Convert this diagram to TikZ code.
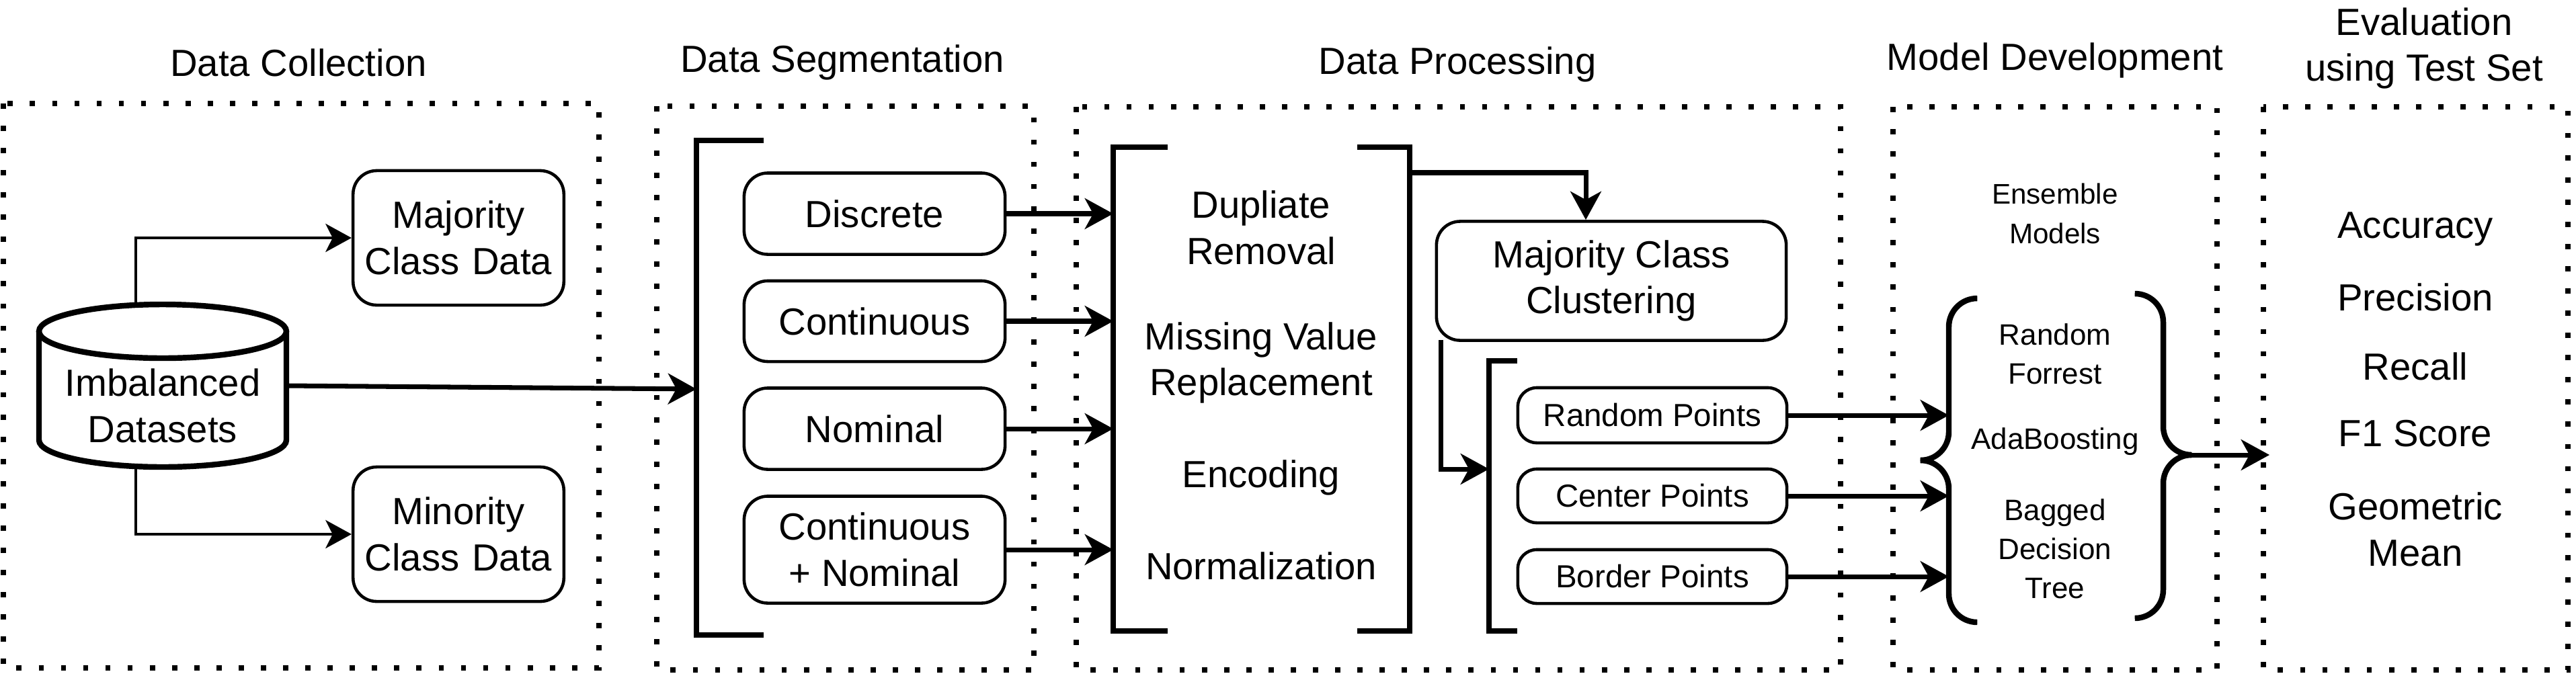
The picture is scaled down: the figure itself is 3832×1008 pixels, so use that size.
\documentclass[tikz,border=0pt]{standalone}
\usepackage{fontspec}
\setmainfont{Liberation Sans}
\usetikzlibrary{arrows.meta,positioning}
\tikzset{
  grp/.style={line width=2.2pt, dash pattern=on 2.2pt off 7.2pt},
  box/.style={draw, rounded corners=10pt, line width=1.3pt, align=center},
  lbl/.style={align=center, font=\fontsize{16}{19.5}\selectfont},
  arr/.style={-{Stealth[length=12pt,width=13pt,inset=3.5pt]}, line width=2pt},
  thinarr/.style={-{Stealth[length=11pt,width=12pt,inset=3pt]}, line width=0.9pt},
  brk/.style={line width=2.4pt},
}
\begin{document}
\begin{tikzpicture}[x=0.01cm, y=-0.01cm, font=\fontsize{16}{19.5}\selectfont]
\useasboundingbox (0,0) rectangle (3832,1008);

    % group frames and titles
    \draw[grp] (5,154) rectangle (891,994);
    \draw[grp] (977,158) rectangle (1538,997);
    \draw[grp] (1601,159) rectangle (2738,997);
    \draw[grp] (2816,159) rectangle (3298,997);
    \draw[grp] (3367,159) rectangle (3820,997);
    \node[lbl] (t1) at (444,93) {Data Collection};
    \node[lbl] (t2) at (1253,93) {Data Segmentation};
    \node[lbl] (t3) at (2168,96) {Data Processing};
    \node[lbl] (t4) at (3057,90) {Model Development};
    \node[lbl] (t5) at (3606,72) {Evaluation\\using Test Set};

    % data collection
    \draw[line width=2.4pt] (242,493) ellipse [x radius=184, y radius=40];
    \draw[line width=2.4pt] (58,493) -- (58,655) arc[start angle=180, end angle=0, x radius=184, y radius=40] -- (426,493);
    \node[lbl] (db) at (242,604) {Imbalanced\\Datasets};
    \coordinate (dbtop) at (202,453);
    \coordinate (dbbot) at (202,695);
    \coordinate (dbout) at (426,574);
    \node[box, text width=2.9cm, minimum height=2cm] (maj) at (682,354) {Majority\\Class Data};
    \node[box, text width=2.9cm, minimum height=2cm] (mino) at (682,795) {Minority\\Class Data};
    \draw[thinarr] (dbtop) |- (maj.west);
    \draw[thinarr] (dbbot) |- (mino.west);

    % data segmentation
    \draw[brk] (1136,209) -- (1036,209) -- (1036,945) -- (1136,945);
    \coordinate (segin) at (1036,579);
    \draw[arr] (dbout) -- (segin);
    \node[box, minimum width=3.88cm, minimum height=1.21cm] (disc) at (1301,318) {Discrete};
    \node[box, minimum width=3.88cm, minimum height=1.2cm] (cont) at (1301,478) {Continuous};
    \node[box, minimum width=3.88cm, minimum height=1.21cm] (nom) at (1301,638) {Nominal};
    \node[box, minimum width=3.88cm, minimum height=1.59cm] (cnom) at (1301,818) {Continuous\\+ Nominal};

    % data processing
    \draw[brk] (1737,219) -- (1656,219) -- (1656,939) -- (1737,939);
    \draw[brk] (2019,219) -- (2097,219) -- (2097,939) -- (2019,939);
    \node[lbl] (dup) at (1876,339) {Dupliate\\Removal};
    \node[lbl] (miss) at (1876,540) {Missing Value\\Replacement};
    \node[lbl] (enc) at (1876,711) {Encoding};
    \node[lbl] (norm) at (1876,842) {Normalization};
    \foreach \s in {disc,cont,nom,cnom}
      \draw[arr] (\s.east) -- (\s.east -| 1656,0);
    \coordinate (procout) at (2097,257);
    \node[box, minimum width=5.2cm, minimum height=1.77cm] (clus) at (2397,418) {Majority Class\\Clustering};
    \draw[arr] (procout) -| (clus.north -| 2359,0);
    \draw[brk] (2257,537) -- (2215,537) -- (2215,939) -- (2257,939);
    \coordinate (clusout) at (2143,506);
    \coordinate (ptsin) at (2215,698);
    \draw[arr] (clusout) |- (ptsin);
    \node[box, rounded corners=8pt, minimum width=4cm, minimum height=0.82cm, font=\fontsize{13.5}{16}\selectfont] (rnd) at (2458,618) {Random Points};
    \node[box, rounded corners=8pt, minimum width=4cm, minimum height=0.8cm, font=\fontsize{13.5}{16}\selectfont] (cen) at (2458,738) {Center Points};
    \node[box, rounded corners=8pt, minimum width=4cm, minimum height=0.8cm, font=\fontsize{13.5}{16}\selectfont] (bor) at (2458,858) {Border Points};

    % model development
    \node[align=center, font=\fontsize{12}{17}\selectfont] (ens) at (3057,318) {Ensemble\\Models};
    \draw[brk, rounded corners=12pt] (2938,444) -- (2899,444) -- (2899,685) -- (2862,685);
    \draw[brk, rounded corners=12pt] (2862,685) -- (2899,685) -- (2899,926) -- (2938,926);
    \draw[brk, rounded corners=12pt] (3178,437) -- (3218,437) -- (3218,677) -- (3254,677);
    \draw[brk, rounded corners=12pt] (3254,677) -- (3218,677) -- (3218,920) -- (3178,920);
    \node[align=center, font=\fontsize{12.5}{16.5}\selectfont] (rf) at (3057,527) {Random\\Forrest};
    \node[align=center, font=\fontsize{12.5}{16.5}\selectfont] (ada) at (3057,657) {AdaBoosting};
    \node[align=center, font=\fontsize{12.5}{16.5}\selectfont] (bdt) at (3057,817) {Bagged\\Decision\\Tree};
    \foreach \s in {rnd,cen,bor}
      \draw[arr] (\s.east) -- (\s.east -| 2899,0);
    \coordinate (mdout) at (3260,677);

    % evaluation
    \node[lbl] (acc) at (3593,341) {Accuracy};
    \node[lbl] (prec) at (3593,442) {Precision};
    \node[lbl] (rec) at (3593,545) {Recall};
    \node[lbl] (f1) at (3593,645) {F1 Score};
    \node[lbl] (gm) at (3593,788) {Geometric\\Mean};
    \coordinate (evin) at (3376,677);
    \draw[arr] (mdout) -- (evin);

\end{tikzpicture}
\end{document}
